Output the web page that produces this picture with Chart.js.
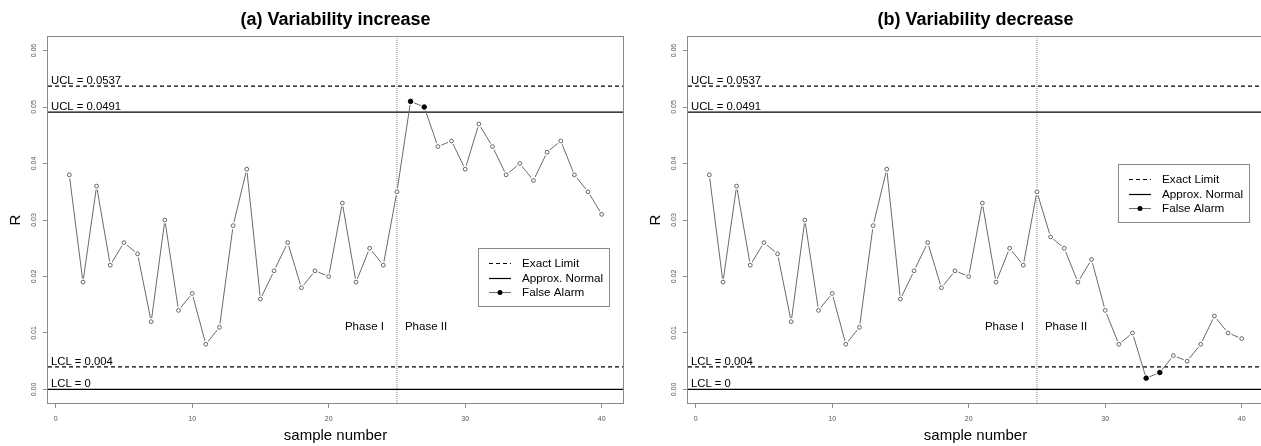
<!DOCTYPE html>
<html>
<head>
<meta charset="utf-8">
<script src="https://cdn.jsdelivr.net/npm/chart.js@4.4.1/dist/chart.umd.min.js"></script>
<style>
  html, body { margin: 0; padding: 0; background: #fff; overflow: hidden; width: 1261px; height: 446px; }
  canvas { position: absolute; top: 0; }
  #chartA { left: 0; }
  #chartB { left: 640px; }
</style>
</head>
<body>
<canvas id="chartA" width="640" height="446"></canvas>
<canvas id="chartB" width="640" height="446"></canvas>
<script>
// ---- data ----
const sampleNumbers = [1, 2, 3, 4, 5, 6, 7, 8, 9, 10, 11, 12, 13, 14, 15, 16, 17, 18, 19, 20,
                       21, 22, 23, 24, 25, 26, 27, 28, 29, 30, 31, 32, 33, 34, 35, 36, 37, 38, 39, 40];
const phaseIRanges = [0.038, 0.019, 0.036, 0.022, 0.026, 0.024, 0.012, 0.030, 0.014, 0.017,
                      0.008, 0.011, 0.029, 0.039, 0.016, 0.021, 0.026, 0.018, 0.021, 0.020,
                      0.033, 0.019, 0.025, 0.022, 0.035];
const phaseIIIncrease = [0.051, 0.050, 0.043, 0.044, 0.039, 0.047, 0.043, 0.038, 0.040, 0.037,
                         0.042, 0.044, 0.038, 0.035, 0.031];
const phaseIIDecrease = [0.027, 0.025, 0.019, 0.023, 0.014, 0.008, 0.010, 0.002, 0.003, 0.006,
                         0.005, 0.008, 0.013, 0.010, 0.009];
const exactLimits = [0.0537, 0.004];          // UCL, LCL from the exact distribution
const normalLimits = [0.0491, 0];             // UCL, LCL from the normal approximation
const exactLimitLabels = ['UCL = 0.0537', 'LCL = 0.004'];
const normalLimitLabels = ['UCL = 0.0491', 'LCL = 0'];
const phaseBoundary = 25;
const phaseLabels = ['Phase I', 'Phase II'];
const legendLabels = ['Exact Limit', 'Approx. Normal', 'False Alarm'];
const yTicks = [0, 0.01, 0.02, 0.03, 0.04, 0.05, 0.06];
const yTickLabels = ['0.00', '0.01', '0.02', '0.03', '0.04', '0.05', '0.06'];
const xTicks = [0, 10, 20, 30, 40];
const xTickLabels = ['0', '10', '20', '30', '40'];
const titles = ['(a) Variability increase', '(b) Variability decrease'];
const axisTitles = ['sample number', 'R'];

// ---- styling ----
const FONT = '"Liberation Sans", Arial, Helvetica, sans-serif';
const BOX = '#8a8a8a';
const SERIES = '#6a6a6a';
const DASH = [4, 3];

// R-style axis ranges: data span widened by 4% on both sides
function padRange(lo, hi) { const d = (hi - lo) * 0.04; return [lo - d, hi + d]; }
const [xMin, xMax] = padRange(sampleNumbers[0], sampleNumbers[sampleNumbers.length - 1]);
const [yMin, yMax] = padRange(yTicks[0], yTicks[yTicks.length - 1]);

function outside(v, lims) { return v > lims[0] || v < lims[1]; }

const decorPlugin = {
  id: 'rDecor',
  afterDatasetsDraw(chart, args, opts) {
    const { ctx, chartArea: a, scales: { x, y } } = chart;
    ctx.save();
    // limit labels sitting on their lines
    ctx.font = '11.3px ' + FONT;
    ctx.fillStyle = '#000';
    ctx.textAlign = 'left';
    ctx.textBaseline = 'alphabetic';
    const labelled = [[exactLimits, exactLimitLabels], [normalLimits, normalLimitLabels]];
    labelled.forEach(([vals, labs]) => vals.forEach((v, i) => {
      ctx.fillText(labs[i], a.left + 3, y.getPixelForValue(v) - 2);
    }));
    // phase labels either side of the boundary
    ctx.font = '11.5px ' + FONT;
    ctx.textBaseline = 'middle';
    const bx = x.getPixelForValue(phaseBoundary);
    const py = y.getPixelForValue(0.011);
    ctx.textAlign = 'right';
    ctx.fillText(phaseLabels[0], bx - 13, py);
    ctx.textAlign = 'left';
    ctx.fillText(phaseLabels[1], bx + 8, py);
    ctx.restore();
  },
  afterDraw(chart, args, opts) {
    const { ctx, chartArea: a } = chart;
    ctx.save();
    // plot frame
    ctx.strokeStyle = BOX;
    ctx.lineWidth = 1;
    ctx.strokeRect(Math.round(a.left) - 0.5, Math.round(a.top) - 0.5,
                   Math.round(a.right - a.left) + 1, Math.round(a.bottom - a.top) + 1);
    // legend box
    const lx = 478, ly = opts.legendTop, lw = 131, lh = 58;
    ctx.fillStyle = '#fff';
    ctx.fillRect(lx, ly, lw, lh);
    ctx.strokeRect(lx + 0.5, ly + 0.5, lw, lh);
    const rows = [ly + 15.5, ly + 30.5, ly + 44.5];
    const x1 = lx + 11, x2 = lx + 33;
    ctx.lineWidth = 1.2;
    ctx.strokeStyle = '#000';
    ctx.setLineDash(DASH);
    ctx.beginPath(); ctx.moveTo(x1, rows[0]); ctx.lineTo(x2, rows[0]); ctx.stroke();
    ctx.setLineDash([]);
    ctx.beginPath(); ctx.moveTo(x1, rows[1]); ctx.lineTo(x2, rows[1]); ctx.stroke();
    ctx.strokeStyle = SERIES;
    ctx.lineWidth = 1;
    ctx.beginPath(); ctx.moveTo(x1, rows[2]); ctx.lineTo(x2, rows[2]); ctx.stroke();
    ctx.fillStyle = '#000';
    ctx.beginPath(); ctx.arc((x1 + x2) / 2, rows[2], 2.5, 0, Math.PI * 2); ctx.fill();
    ctx.font = '11.7px ' + FONT;
    ctx.textAlign = 'left';
    ctx.textBaseline = 'middle';
    legendLabels.forEach((t, i) => ctx.fillText(t, lx + 44, rows[i]));
    ctx.restore();
  }
};

function makeChart(id, title, values, legendTop) {
  const pts = values.map((v, i) => ({ x: sampleNumbers[i], y: v }));
  const alarm = values.map((v, i) => sampleNumbers[i] > phaseBoundary &&
                                     outside(v, exactLimits) !== outside(v, normalLimits));
  const hLine = (v) => [{ x: xMin, y: v }, { x: xMax, y: v }];
  const limitSet = (v, dashed) => ({
    data: hLine(v), borderColor: '#000', borderWidth: 1.3, borderDash: dashed ? DASH : [],
    pointRadius: 0, order: 3
  });

  return new Chart(document.getElementById(id), {
    type: 'line',
    data: {
      datasets: [
        { // sample ranges as markers
          data: pts, showLine: false, order: 0,
          pointRadius: (c) => alarm[c.dataIndex] ? 2.3 : 1.9,
          pointBackgroundColor: (c) => alarm[c.dataIndex] ? '#000' : '#fff',
          pointBorderColor: (c) => alarm[c.dataIndex] ? '#000' : '#555',
          pointBorderWidth: 0.9
        },
        { // white halo so the connecting line stops short of each marker
          data: pts, showLine: false, order: 1,
          pointRadius: 3.6, pointBackgroundColor: '#fff', pointBorderWidth: 0
        },
        { // connecting line
          data: pts, order: 2, borderColor: SERIES, borderWidth: 1,
          pointRadius: 0, tension: 0
        },
        limitSet(exactLimits[0], true),
        limitSet(exactLimits[1], true),
        limitSet(normalLimits[0], false),
        limitSet(normalLimits[1], false),
        { // phase I / phase II boundary
          data: [{ x: phaseBoundary, y: yMin }, { x: phaseBoundary, y: yMax }],
          borderColor: '#8c8c8c', borderWidth: 1, borderDash: [1, 1], pointRadius: 0, order: 4
        }
      ]
    },
    options: {
      responsive: false,
      animation: false,
      devicePixelRatio: 1,
      layout: { padding: { left: 0, right: 17, top: 0, bottom: 0 } },
      plugins: {
        legend: { display: false },
        tooltip: { enabled: false },
        title: {
          display: true, text: title, fullSize: false, color: '#000',
          font: { family: FONT, size: 18, weight: 'bold', lineHeight: 1.2 },
          padding: { top: 9, bottom: 6.4 }
        },
        rDecor: { legendTop }
      },
      scales: {
        x: {
          type: 'linear', min: xMin, max: xMax, offset: false,
          afterBuildTicks: (s) => { s.ticks = xTicks.map(v => ({ value: v })); },
          afterFit: (s) => { s.height = 43; },
          border: { display: false },
          grid: { display: true, drawOnChartArea: false, drawTicks: true, tickLength: 5, color: BOX },
          ticks: {
            color: '#555', font: { family: FONT, size: 7 }, padding: 7, maxRotation: 0,
            callback: (v) => xTickLabels[xTicks.indexOf(v)]
          },
          title: {
            display: true, text: axisTitles[0], color: '#000',
            font: { family: FONT, size: 15, lineHeight: 1.2 }, padding: { top: 0, bottom: 1 }
          }
        },
        y: {
          type: 'linear', min: yMin, max: yMax,
          afterBuildTicks: (s) => { s.ticks = yTicks.map(v => ({ value: v })); },
          afterFit: (s) => { s.width = 48; },
          border: { display: false },
          grid: { display: true, drawOnChartArea: false, drawTicks: true, tickLength: 5, color: BOX },
          ticks: {
            color: '#555', font: { family: FONT, size: 7 }, padding: 2.5,
            minRotation: 90, maxRotation: 90, crossAlign: 'center',
            callback: (v) => yTickLabels[yTicks.indexOf(v)]
          },
          title: {
            display: true, text: axisTitles[1], color: '#000',
            font: { family: FONT, size: 15, lineHeight: 1.2 }, padding: { top: 6.5, bottom: 0 }
          }
        }
      }
    },
    plugins: [decorPlugin]
  });
}

makeChart('chartA', titles[0], phaseIRanges.concat(phaseIIIncrease), 248);
makeChart('chartB', titles[1], phaseIRanges.concat(phaseIIDecrease), 164);
</script>
</body>
</html>
